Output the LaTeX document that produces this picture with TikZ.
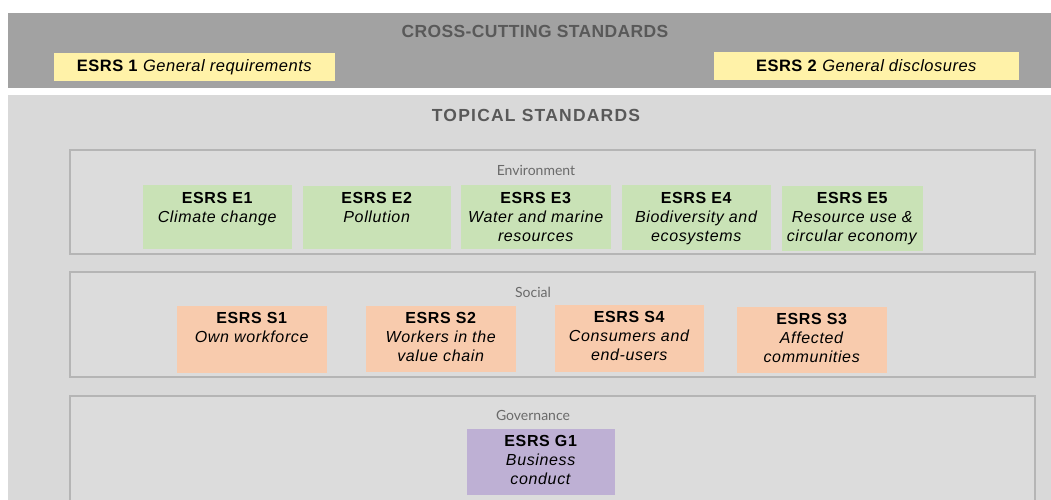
\documentclass[tikz,border=0pt]{standalone}
\usepackage{fontspec}
\setmainfont{Liberation Sans}
\newfontfamily\lato{Lato}
\newfontfamily\cardfont[LetterSpace=4]{Liberation Sans}
\newfontfamily\crossfont[LetterSpace=3]{Liberation Sans}
\newfontfamily\crosstitlefont[LetterSpace=2]{Liberation Sans}
\newfontfamily\topicfont[LetterSpace=7]{Liberation Sans}
\definecolor{band}{HTML}{A2A2A2}
\definecolor{titlegray}{HTML}{595959}
\definecolor{yel}{HTML}{FFF2A8}
\definecolor{light}{HTML}{D9D9D9}
\definecolor{inner}{HTML}{DCDCDC}
\definecolor{innerline}{HTML}{B5B5B5}
\definecolor{grn}{HTML}{C9E2B6}
\definecolor{peach}{HTML}{F8CBAD}
\definecolor{purp}{HTML}{BEB0D4}
\definecolor{lab}{HTML}{6A6A6A}
\tikzset{
  x=1pt, y=-1pt,
  area/.style={fill=#1, draw=none},
  group/.style={fill=inner, draw=innerline, line width=1.2pt},
  cardtext/.style={anchor=north, inner sep=0pt, align=center, text=black,
    font=\cardfont\fontsize{16}{19}\selectfont},
  bigtitle/.style={text=titlegray, inner sep=0pt},
  grouplabel/.style={text=lab, font=\lato\fontsize{14}{16}\selectfont, inner sep=0pt},
  crosstext/.style={text=black, font=\crossfont\fontsize{16.5}{19}\selectfont, inner sep=0pt},
}
\begin{document}
\begin{tikzpicture}
\clip (0,0) rectangle (1051,500);
\fill[white] (0,0) rectangle (1051,500);
% bands
\path[area=band] (8,13) rectangle (1051,88);
\path[area=light] (8,95) rectangle (1051,500);
\node[bigtitle, font=\crosstitlefont\bfseries\fontsize{17.5}{20}\selectfont] (cross) at (535,31) {CROSS-CUTTING STANDARDS};
\path[area=yel] (54,53) rectangle (335,81);
\node[crosstext] (esrs1) at (194.5,67) {\textbf{ESRS 1} \textit{General requirements}};
\path[area=yel] (714,52) rectangle (1019,80);
\node[crosstext] (esrs2) at (866.5,66) {\textbf{ESRS 2} \textit{General disclosures}};
\node[bigtitle, font=\topicfont\bfseries\fontsize{17.5}{20}\selectfont] (topical) at (536,115) {TOPICAL STANDARDS};
% groups
\path[group] (70,150) rectangle (1035,254);
\node[grouplabel] (envl) at (536,170) {Environment};
\path[group] (70,272) rectangle (1035,377);
\node[grouplabel] (socl) at (533,292) {Social};
\path[group] (70,396) rectangle (1035,520);
\node[grouplabel] (govl) at (533,415) {Governance};
% environment cards
\path[area=grn] (143,185) rectangle (292,249);
\node[cardtext] (e1) at (217.5,192) {\textbf{ESRS E1}\\\textit{Climate change}};
\path[area=grn] (303,186) rectangle (451,249);
\node[cardtext] (e2) at (377,192) {\textbf{ESRS E2}\\\textit{Pollution}};
\path[area=grn] (461,185) rectangle (611,249);
\node[cardtext] (e3) at (536,192) {\textbf{ESRS E3}\\\textit{Water and marine}\\\textit{resources}};
\path[area=grn] (622,185) rectangle (771,250);
\node[cardtext] (e4) at (696.5,192) {\textbf{ESRS E4}\\\textit{Biodiversity and}\\\textit{ecosystems}};
\path[area=grn] (782,186) rectangle (923,251);
\node[cardtext] (e5) at (852.5,192) {\textbf{ESRS E5}\\\textit{Resource use \&}\\\textit{circular economy}};
% social cards
\path[area=peach] (177,306) rectangle (327,373);
\node[cardtext] (s1) at (252,312) {\textbf{ESRS S1}\\\textit{Own workforce}};
\path[area=peach] (366,306) rectangle (516,372);
\node[cardtext] (s2) at (441,312) {\textbf{ESRS S2}\\\textit{Workers in the}\\\textit{value chain}};
\path[area=peach] (555,305) rectangle (704,372);
\node[cardtext] (s4) at (629.5,311) {\textbf{ESRS S4}\\\textit{Consumers and}\\\textit{end-users}};
\path[area=peach] (737,307) rectangle (887,373);
\node[cardtext] (s3) at (812,313) {\textbf{ESRS S3}\\\textit{Affected}\\\textit{communities}};
% governance card
\path[area=purp] (467,429) rectangle (615,495);
\node[cardtext] (g1) at (541,435) {\textbf{ESRS G1}\\\textit{Business}\\\textit{conduct}};
\end{tikzpicture}
\end{document}
